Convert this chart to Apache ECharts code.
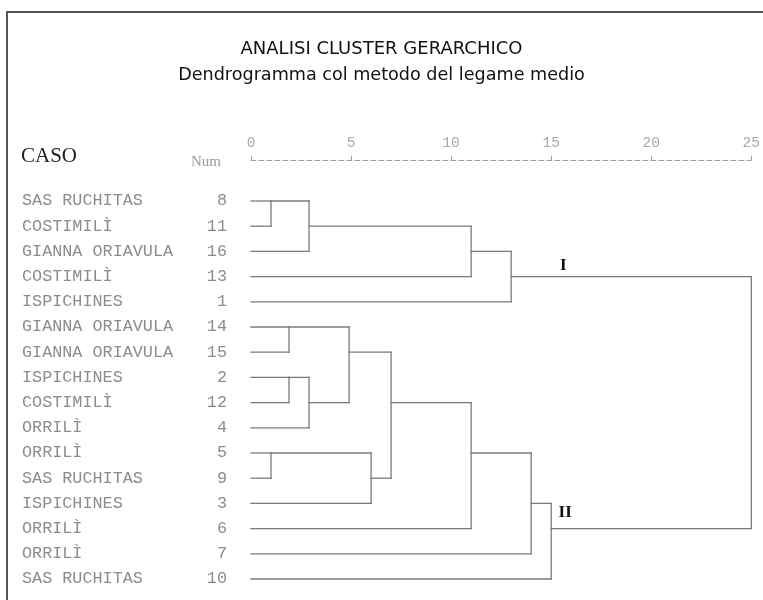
<!DOCTYPE html>
<html lang="it">
<head>
	<meta charset="UTF-8">
	<title>Dendrogramma</title>
	<script src="https://cdn.jsdelivr.net/npm/echarts@6/dist/echarts.min.js"></script>
	<style>
		html, body { margin: 0; padding: 0; background: #fff; }
	</style>
</head>
<body>
	<div id="main" style="width:763px; height:600px"></div>
	<script>
		// casi nell'ordine del dendrogramma (dall'alto in basso)
		var caseNames = ["SAS RUCHITAS", "COSTIMILÌ", "GIANNA ORIAVULA", "COSTIMILÌ", "ISPICHINES",
			"GIANNA ORIAVULA", "GIANNA ORIAVULA", "ISPICHINES", "COSTIMILÌ", "ORRILÌ",
			"ORRILÌ", "SAS RUCHITAS", "ISPICHINES", "ORRILÌ", "ORRILÌ", "SAS RUCHITAS"];
		var caseNums = ["8", "11", "16", "13", "1", "14", "15", "2", "12", "4", "5", "9", "3", "6", "7", "10"];

		// fusioni: nodi 0-15 = casi, 16+ = cluster creati in ordine
		var mergeLeft = [0, 16, 17, 18, 5, 7, 21, 20, 10, 24, 23, 26, 27, 28, 19];
		var mergeRight = [1, 2, 3, 4, 6, 8, 9, 22, 11, 12, 25, 13, 14, 15, 29];
		var mergeHeight = [1, 2.9, 11, 13, 1.9, 1.9, 2.9, 4.9, 1, 6, 7, 11, 14, 15, 25];
		var mergeRow = [0, 1, 2, 3, 5, 7, 8, 6, 10, 11, 8, 10, 12, 13, 8];

		// etichette dei due gruppi principali
		var groupNames = ["I", "II"];
		var groupNodes = [19, 29];
		var groupX = [15.6, 15.7];

		var axisTicks = [0, 5, 10, 15, 20, 25];

		// segmenti del dendrogramma
		var nodeX = [], nodeY = [];
		for (var i = 0; i < caseNames.length; i++) { nodeX.push(0); nodeY.push(i); }
		var segs = [];
		for (var m = 0; m < mergeLeft.length; m++) {
			var a = mergeLeft[m], b = mergeRight[m], h = mergeHeight[m];
			segs.push([nodeX[a], nodeY[a], h, nodeY[a]]);
			segs.push([nodeX[b], nodeY[b], h, nodeY[b]]);
			segs.push([h, nodeY[a], h, nodeY[b]]);
			nodeX.push(h);
			nodeY.push(mergeRow[m]);
		}
		var labelData = groupNames.map(function (n, k) {
			return [groupX[k], nodeY[groupNodes[k]], k];
		});
		var labelDy = [-11, -16];

		var monoLabel = { fontFamily: "Liberation Mono", fontSize: 16.8, color: "#8c8c8c" };

		var myChart = echarts.init(document.getElementById("main"));
		myChart.setOption({
			animation: false,
			title: [{
				text: "ANALISI CLUSTER GERARCHICO",
				left: "center", top: 35,
				textStyle: { fontFamily: "DejaVu Sans", fontSize: 18, fontWeight: "normal", color: "#111" }
			}, {
				text: "Dendrogramma col metodo del legame medio",
				left: "center", top: 61,
				textStyle: { fontFamily: "DejaVu Sans", fontSize: 17.6, fontWeight: "normal", color: "#111" }
			}],
			graphic: [{
				type: "rect", shape: { x: 7, y: 12, width: 800, height: 700 },
				style: { fill: "none", stroke: "#555", lineWidth: 2 }, silent: true
			}, {
				type: "text", left: 21, top: 146,
				style: { text: "CASO", fontFamily: "Liberation Serif", fontSize: 21, fill: "#222" }
			}, {
				type: "text", left: 191, top: 155,
				style: { text: "Num", fontFamily: "Liberation Serif", fontSize: 15, fill: "#9a9a9a" }
			}],
			grid: { left: 251, right: 6, top: 201, bottom: 21 },
			xAxis: {
				type: "value", min: 0, max: 25, interval: 5,
				position: "top", offset: 41,
				axisLine: { show: true, lineStyle: { color: "#a0a0a0", type: [5, 3], width: 1 } },
				axisTick: { show: true, length: 4, lineStyle: { color: "#a0a0a0" } },
				axisLabel: {
					margin: 9, fontFamily: "Liberation Mono", fontSize: 14.5, color: "#a8a8a8",
					formatter: function (v) { return axisTicks.indexOf(v) >= 0 ? String(v) : ""; }
				},
				splitLine: { show: false }
			},
			yAxis: [{
				type: "category", data: caseNames, inverse: true, boundaryGap: false,
				axisLine: { show: false }, axisTick: { show: false }, splitLine: { show: false },
				axisLabel: Object.assign({ align: "left", margin: 229, interval: 0 }, monoLabel)
			}, {
				type: "category", data: caseNums, inverse: true, boundaryGap: false, position: "left",
				axisLine: { show: false }, axisTick: { show: false }, splitLine: { show: false },
				axisLabel: Object.assign({ align: "right", margin: 24, interval: 0 }, monoLabel)
			}],
			series: [{
				type: "custom",
				data: segs,
				encode: { x: [0, 2], y: [1, 3] },
				renderItem: function (params, api) {
					var p1 = api.coord([api.value(0), api.value(1)]);
					var p2 = api.coord([api.value(2), api.value(3)]);
					return {
						type: "line",
						shape: { x1: p1[0], y1: p1[1], x2: p2[0], y2: p2[1] },
						style: { stroke: "#7a7a7a", lineWidth: 1.3, lineCap: "square" }
					};
				}
			}, {
				type: "custom",
				data: labelData,
				encode: { x: 0, y: 1 },
				renderItem: function (params, api) {
					var p = api.coord([api.value(0), api.value(1)]);
					var k = api.value(2);
					return {
						type: "text",
						x: p[0], y: p[1] + labelDy[k],
						style: {
							text: groupNames[k], align: "center", verticalAlign: "middle",
							fontFamily: "Liberation Serif", fontWeight: "bold", fontSize: 17, fill: "#111"
						}
					};
				}
			}]
		});
	</script>
</body>
</html>
